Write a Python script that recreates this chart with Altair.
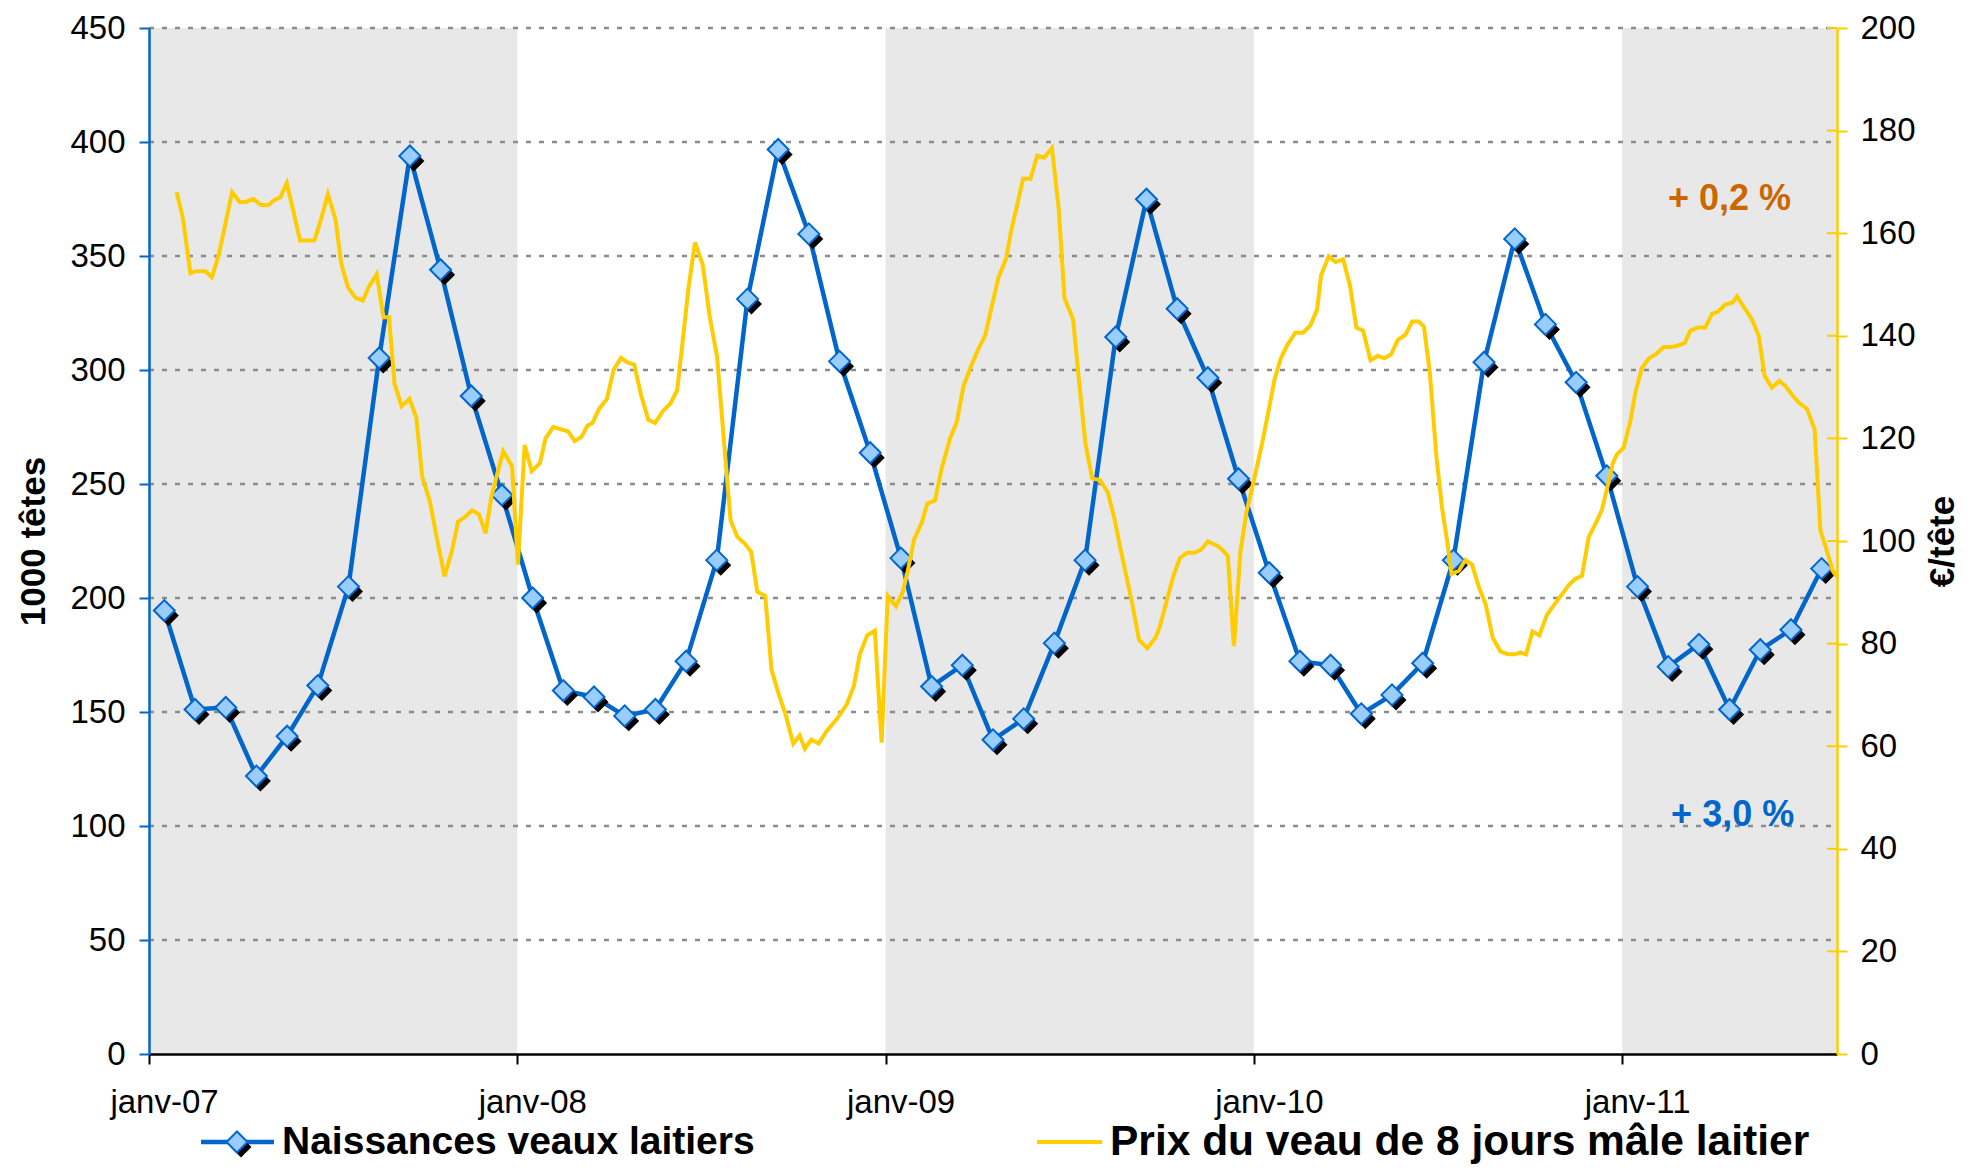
import altair as alt
import pandas as pd

# ---------------- data ----------------
year_labels = ["janv-07", "janv-08", "janv-09", "janv-10", "janv-11"]
n_months = 55  # janv-07 .. juil-11

# Naissances veaux laitiers (1000 têtes), monthly janv-07 .. juil-11
naissances = [194.5, 151.1, 152.0, 121.9, 139.4, 161.6, 205.0, 305.3, 393.9, 344.0, 288.6, 245.2,
              200.0, 159.4, 156.6, 148.3, 151.1, 172.3, 216.6, 331.1, 396.7, 359.7, 303.8, 263.7,
              217.5, 161.2, 170.5, 137.8, 147.0, 180.2, 216.6, 314.5, 374.9, 326.9, 296.6, 252.3,
              211.1, 172.3, 170.5, 149.2, 157.5, 171.4, 216.6, 303.4, 357.5, 320.0, 294.6, 253.6,
              205.0, 169.9, 179.7, 151.1, 177.3, 186.1, 212.9]

# Prix du veau de 8 jours mâle laitier (€/tête), weekly; time in months since janv-07
prix_t = [0.90, 1.10, 1.35, 1.53, 1.84, 2.05, 2.27, 2.71, 2.95, 3.16, 3.40, 3.65, 3.90, 4.09, 4.28,
          4.49, 4.68, 4.92, 5.39, 5.61, 5.83, 6.08, 6.26, 6.48, 6.73, 6.97, 7.16, 7.42, 7.64, 7.82,
          8.00, 8.23, 8.49, 8.71, 8.90, 9.16, 9.38, 9.63, 9.88, 10.07, 10.28, 10.53, 10.75, 10.97,
          11.15, 11.54, 11.83, 12.02, 12.24, 12.47, 12.74, 12.92, 13.17, 13.65, 13.87, 14.09, 14.29,
          14.45, 14.67, 14.92, 15.14, 15.38, 15.59, 15.81, 16.03, 16.27, 16.49, 16.74, 16.99, 17.21,
          17.37, 17.58, 17.79, 18.04, 18.26, 18.51, 18.66, 18.84, 18.95, 19.17, 19.41, 19.62, 19.82,
          20.08, 20.28, 20.50, 20.75, 20.99, 21.20, 21.37, 21.58, 21.82, 22.07, 22.40, 22.73, 22.97,
          23.16, 23.40, 23.65, 23.87, 24.07, 24.34, 24.56, 24.71, 24.93, 25.18, 25.36, 25.61, 25.83,
          26.10, 26.32, 26.54, 26.78, 27.00, 27.25, 27.46, 27.68, 27.93, 28.09, 28.28, 28.48, 28.72,
          28.94, 29.17, 29.42, 29.64, 29.83, 30.11, 30.30, 30.51, 30.73, 30.98, 31.24, 31.44, 31.66,
          32.04, 32.26, 32.53, 32.80, 32.93, 33.15, 33.37, 33.59, 33.82, 34.06, 34.28, 34.50, 34.80,
          34.97, 35.15, 35.35, 35.56, 35.76, 36.00, 36.27, 36.49, 36.67, 36.87, 37.10, 37.35, 37.60,
          37.84, 38.06, 38.19, 38.44, 38.66, 38.91, 39.13, 39.34, 39.56, 39.80, 40.04, 40.25, 40.47,
          40.69, 40.94, 41.16, 41.37, 41.54, 41.73, 41.95, 42.13, 42.30, 42.44, 42.68, 42.89, 43.11,
          43.33, 43.55, 43.78, 44.03, 44.28, 44.52, 44.68, 44.87, 45.08, 45.30, 45.55, 45.80, 46.04,
          46.26, 46.47, 46.69, 46.91, 47.12, 47.34, 47.54, 47.69, 47.83, 48.05, 48.26, 48.43, 48.64,
          48.88, 49.10, 49.35, 49.60, 49.82, 50.04, 50.22, 50.47, 50.71, 50.93, 51.12, 51.36, 51.60,
          51.74, 51.99, 52.23, 52.45, 52.64, 52.88, 53.12, 53.32, 53.56, 53.77, 54.02, 54.27, 54.46,
          54.64, 54.86, 55.00]
prix = [168.0, 163.1, 152.2, 152.6, 152.6, 151.4, 155.7, 168.0, 166.1, 166.1, 166.7, 165.5, 165.5, 166.5, 167.0,
        169.8, 164.9, 158.6, 158.6, 162.8, 167.6, 162.6, 154.2, 149.5, 147.4, 146.9, 149.5, 152.0, 143.6, 143.6,
        130.7, 126.3, 127.7, 124.0, 112.6, 107.5, 100.5, 93.1, 98.3, 103.8, 104.6, 106.0, 105.2, 101.5,
        108.5, 117.5, 114.6, 95.4, 118.7, 113.6, 115.2, 120.0, 122.2, 121.4, 119.5, 120.3, 122.5,
        123.0, 125.8, 127.7, 133.4, 135.7, 134.8, 134.4, 128.5, 123.6, 123.0, 125.3, 126.8, 129.4,
        137.9, 149.4, 158.2, 153.9, 144.1, 135.9, 124.9, 111.8, 104.0, 100.8, 99.5, 97.9, 90.1,
        89.3, 75.0, 70.5, 66.0, 60.5, 62.1, 59.5, 61.3, 60.5, 62.9, 65.2, 68.1, 71.8,
        77.9, 81.6, 82.5, 60.7, 89.3, 87.3, 90.1, 93.8, 100.3, 103.6, 107.3, 107.9, 114.2,
        120.0, 123.2, 130.2, 134.0, 137.1, 140.2, 145.7, 151.4, 155.1, 160.4, 165.3, 170.6, 170.6,
        175.1, 174.7, 176.6, 164.9, 147.3, 143.2, 131.4, 119.1, 112.2, 111.9, 109.5, 104.8, 98.3,
        87.7, 80.7, 79.1, 81.2, 83.2, 88.1, 93.0, 96.7, 97.7, 97.7, 98.3, 99.9, 99.1,
        98.3, 97.1, 79.5, 97.9, 105.7, 111.8, 119.1, 125.7, 131.4, 135.5, 138.3, 140.6, 140.6,
        142.0, 145.1, 151.8, 155.5, 154.4, 154.9, 149.8, 141.6, 141.0, 135.2, 136.1, 135.6, 136.4,
        139.2, 140.2, 142.8, 142.8, 141.8, 133.0, 116.3, 106.5, 99.9, 93.6, 94.2, 96.3, 95.4,
        91.0, 87.7, 81.2, 78.5, 77.9, 77.9, 78.3, 77.9, 82.4, 81.6, 85.6, 87.7, 89.6,
        91.4, 92.6, 93.2, 100.8, 103.2, 106.1, 111.0, 115.1, 116.9, 118.2, 123.2, 128.9, 133.7,
        135.6, 136.4, 137.8, 137.8, 138.1, 138.6, 141.0, 141.6, 141.6, 144.3, 144.7, 146.1, 146.5,
        147.7, 145.4, 143.2, 140.0, 132.2, 129.9, 131.2, 130.2, 128.3, 126.9, 125.8, 121.8, 102.0,
        98.7, 94.2, 93.0]

band_start = [0, 24, 48]
band_end = [12, 36, 55]
left_ticks = list(range(0, 451, 50))
right_ticks = list(range(0, 201, 20))
year_ticks = [0, 12, 24, 36, 48]

label_naiss = "Naissances veaux laitiers"
label_prix = "Prix du veau de 8 jours mâle laitier"
ann_prix = "+ 0,2 %"
ann_naiss = "+ 3,0 %"

# ---------------- styling ----------------
BLUE = "#0066CC"
LIGHTBLUE = "#99CCFF"
YELLOW = "#FFCC00"
ORANGE = "#CC6600"
BAND = "#E8E8E8"
FONT = "Liberation Sans"
W, H = 1688, 1026
DIAM = 440

df_b = pd.DataFrame({"t": [i + 0.5 for i in range(n_months)], "v": naissances})
df_p = pd.DataFrame({"t": prix_t, "v": prix})
df_band = pd.DataFrame({"start": band_start, "end": band_end})
df_grid = pd.DataFrame({"v": left_ticks[1:]})
df_rt = pd.DataFrame({"v": right_ticks})
one = pd.DataFrame({"k": [0]})

xscale = alt.Scale(domain=[0, n_months], nice=False, zero=False)
yL = alt.Scale(domain=[0, 450], nice=False)
yR = alt.Scale(domain=[0, 200], nice=False)

label_expr = "[" + ",".join("'%s'" % s for s in year_labels) + "][round(datum.value/12)]"
x_axis = alt.Axis(values=year_ticks, labelExpr=label_expr, labelOffset=15, labelFlush=False,
                  labelAlign="center", domainColor="black", domainWidth=2.5, tickColor="black",
                  tickWidth=2, tickSize=10, labelFontSize=33, labelFont=FONT, labelColor="black",
                  labelPadding=22, grid=False, title=None, zindex=1)
yl_axis = alt.Axis(values=left_ticks, orient="left", domainColor=BLUE, domainWidth=2.5,
                   tickColor=BLUE, tickWidth=2, tickSize=10, labelFontSize=33,
                   labelFont=FONT, labelColor="black", labelPadding=14, grid=False,
                   title="1000 têtes", titleFont=FONT, titleFontSize=35,
                   titleFontWeight="bold", titleColor="black", titlePadding=18, zindex=1)
yr_axis = alt.Axis(values=right_ticks, orient="right", domainColor=YELLOW, domainWidth=2.5,
                   tickColor=YELLOW, tickWidth=2, tickSize=10, labelFontSize=33,
                   labelFont=FONT, labelColor="black", labelPadding=13, grid=False,
                   title="€/tête", titleFont=FONT, titleFontSize=35, titleAngle=270,
                   titleFontWeight="bold", titleColor="black", titlePadding=45, zindex=1)


def X(field=None, datum=None):
    if datum is not None:
        return alt.XDatum(datum, scale=xscale, axis=x_axis)
    return alt.X(field, scale=xscale, axis=x_axis)


bands = alt.Chart(df_band).mark_rect(color=BAND).encode(
    x=X("start:Q"), x2="end:Q",
    y=alt.YDatum(0, scale=yL, axis=None), y2=alt.datum(450))

grid = alt.Chart(df_grid).mark_rule(color="#8C8C8C", strokeWidth=2.5, strokeDash=[5, 8]).encode(
    y=alt.Y("v:Q", scale=yL, axis=None),
    x=X(datum=0), x2=alt.datum(n_months))

blue_line = alt.Chart(df_b).mark_line(color=BLUE, strokeWidth=4.5).encode(
    x=X("t:Q"), y=alt.Y("v:Q", scale=yL, axis=yl_axis))
blue_shadow = alt.Chart(df_b).mark_point(shape="diamond", filled=True, color="black",
                                         size=DIAM, xOffset=4, yOffset=5, opacity=1).encode(
    x=X("t:Q"), y=alt.Y("v:Q", scale=yL, axis=None))
blue_pts = alt.Chart(df_b).mark_point(shape="diamond", filled=True, fill=LIGHTBLUE, stroke=BLUE,
                                      strokeWidth=2, strokeOpacity=1, size=DIAM, opacity=1).encode(
    x=X("t:Q"), y=alt.Y("v:Q", scale=yL, axis=None))

yellow = alt.Chart(df_p).mark_line(color=YELLOW, strokeWidth=4).encode(
    x=X("t:Q"), y=alt.Y("v:Q", scale=yR, axis=yr_axis))
rt_in = alt.Chart(df_rt).mark_rule(color=YELLOW, strokeWidth=2).encode(
    y=alt.Y("v:Q", scale=yR, axis=None),
    x=X(datum=n_months - 10 / (W / n_months)), x2=alt.datum(n_months))

ann1 = alt.Chart(one).mark_text(text=ann_prix, color=ORANGE, font=FONT, fontSize=36,
                                fontWeight="bold", align="center", baseline="middle").encode(
    x=X(datum=51.5), y=alt.YDatum(375, scale=yL, axis=None))
ann2 = alt.Chart(one).mark_text(text=ann_naiss, color=BLUE, font=FONT, fontSize=36,
                                fontWeight="bold", align="center", baseline="middle").encode(
    x=X(datum=51.6), y=alt.YDatum(105, scale=yL, axis=None))

# legend (drawn below the plot)
LY = 1114
leg_b_line = alt.Chart(one).mark_rule(color=BLUE, strokeWidth=4.5).encode(
    x=alt.value(52), x2=alt.value(125), y=alt.value(LY))
leg_b_sh = alt.Chart(one).mark_point(shape="diamond", filled=True, color="black", size=DIAM,
                                     opacity=1).encode(x=alt.value(92), y=alt.value(LY + 5))
leg_b_pt = alt.Chart(one).mark_point(shape="diamond", filled=True, fill=LIGHTBLUE, stroke=BLUE,
                                     strokeWidth=2, size=DIAM, opacity=1).encode(
    x=alt.value(88), y=alt.value(LY))
leg_b_txt = alt.Chart(one).mark_text(text=label_naiss, font=FONT, fontSize=39, fontWeight="bold",
                                     color="black", align="left", baseline="middle").encode(
    x=alt.value(133), y=alt.value(LY))
leg_p_line = alt.Chart(one).mark_rule(color=YELLOW, strokeWidth=4).encode(
    x=alt.value(888), x2=alt.value(953), y=alt.value(LY))
leg_p_txt = alt.Chart(one).mark_text(text=label_prix, font=FONT, fontSize=42.5, fontWeight="bold",
                                     color="black", align="left", baseline="middle").encode(
    x=alt.value(961), y=alt.value(LY))

chart = alt.layer(bands, grid, blue_line, blue_shadow, blue_pts, yellow, rt_in, ann1, ann2,
                  leg_b_line, leg_b_sh, leg_b_pt, leg_b_txt, leg_p_line, leg_p_txt
                  ).resolve_scale(y="independent").properties(
    width=W, height=H,
    autosize=alt.AutoSizeParams(type="none"),
    padding={"left": 141, "top": 20, "right": 126, "bottom": 110},
    background="white",
).configure_view(stroke=None)

chart.save("out.html", embed_options={"renderer": "svg", "actions": False})
